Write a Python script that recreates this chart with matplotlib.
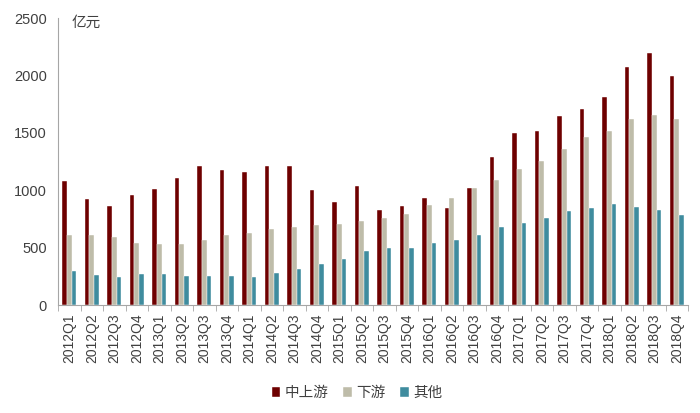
import matplotlib
matplotlib.use("Agg")
import matplotlib.pyplot as plt
import numpy as np

plt.rcParams['font.family'] = ['Liberation Sans', 'Noto Sans CJK SC']

quarters = ["2012Q1", "2012Q2", "2012Q3", "2012Q4",
            "2013Q1", "2013Q2", "2013Q3", "2013Q4",
            "2014Q1", "2014Q2", "2014Q3", "2014Q4",
            "2015Q1", "2015Q2", "2015Q3", "2015Q4",
            "2016Q1", "2016Q2", "2016Q3", "2016Q4",
            "2017Q1", "2017Q2", "2017Q3", "2017Q4",
            "2018Q1", "2018Q2", "2018Q3", "2018Q4"]

upstream = [1085, 925, 861, 963, 1010, 1103, 1211, 1173, 1155, 1211, 1211, 1001,
            902, 1039, 824, 861, 931, 847, 1021, 1289, 1496, 1513, 1644, 1708,
            1816, 2072, 2197, 1993]
downstream = [614, 614, 594, 541, 535, 535, 567, 614, 626, 666, 681, 695,
              707, 736, 754, 797, 870, 931, 1016, 1091, 1184, 1257, 1359, 1461,
              1513, 1621, 1659, 1621]
other = [294, 262, 242, 271, 271, 250, 256, 250, 242, 279, 317, 355,
         404, 474, 498, 498, 544, 567, 614, 684, 713, 754, 815, 844,
         876, 853, 829, 783]

names = ["中上游", "下游", "其他"]
colors = ["#6E0000", "#BEBCA9", "#3F8C9E"]

fig = plt.figure(figsize=(7, 4.13), dpi=100)
ax = fig.add_axes([0.083, 0.2615, 0.9, 0.6945])

x = np.arange(len(quarters))
w = 0.21
for i, (vals, name, c) in enumerate(zip([upstream, downstream, other], names, colors)):
    ax.bar(x + (i - 1) * w, vals, width=w, color=c, label=name,
           edgecolor="white", linewidth=0.3)

ax.set_xlim(-0.5, len(quarters) - 0.5)
ax.set_ylim(0, 2500)
ax.set_yticks(range(0, 2501, 500))
ax.tick_params(axis='y', length=0, labelsize=10.5, colors="#404040", pad=8)

ax.set_xticks(x)
ax.set_xticklabels(quarters, rotation=90, fontsize=10, color="#404040")
ax.set_xticks(np.arange(-0.5, len(quarters), 1), minor=True)
ax.tick_params(axis='x', which='major', length=0, pad=6)
ax.tick_params(axis='x', which='minor', length=4, color="#A6A6A6", direction='out')

for s in ["top", "right"]:
    ax.spines[s].set_visible(False)
for s in ["left", "bottom"]:
    ax.spines[s].set_color("#A6A6A6")
    ax.spines[s].set_linewidth(0.8)

ax.text(0.022, 0.984, "亿元", transform=ax.transAxes, ha="left", va="center",
        fontsize=10.5, color="#404040")

fig.legend(loc="center", bbox_to_anchor=(0.51, 0.048), ncol=3, frameon=False,
           fontsize=10.5, handlelength=0.6, handleheight=0.6, handletextpad=0.3,
           columnspacing=1.0, labelcolor="#404040")

fig.savefig("out.png", dpi=100)
